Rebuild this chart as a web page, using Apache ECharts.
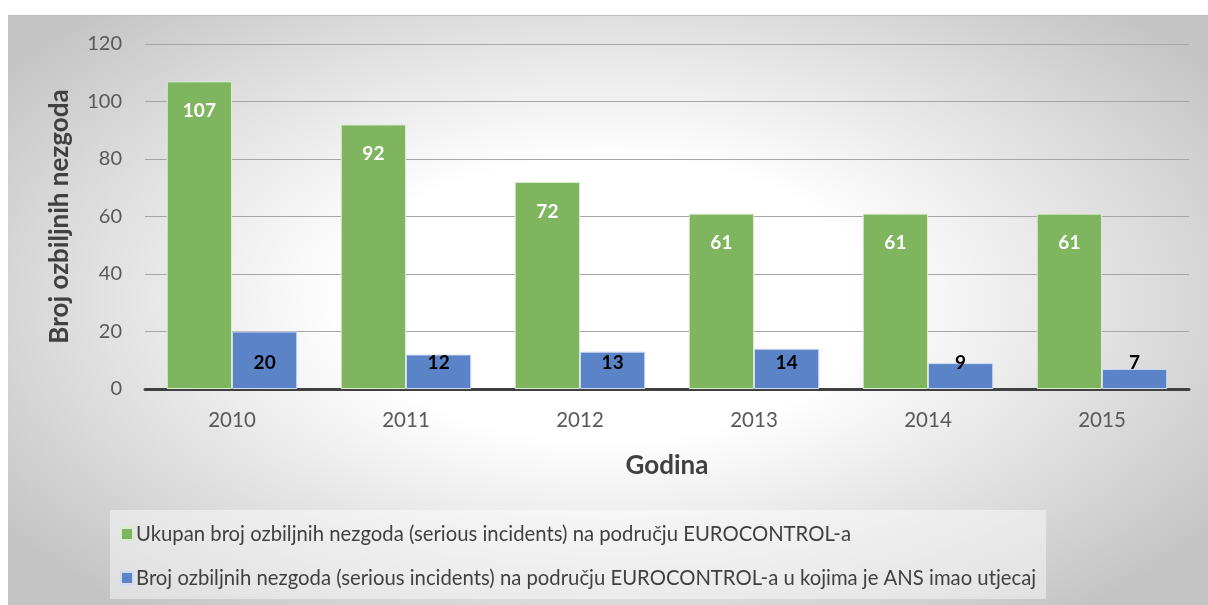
<!DOCTYPE html>
<html><head><meta charset="utf-8">
<script src="https://cdn.jsdelivr.net/npm/echarts@6/dist/echarts.min.js"></script>
<style>
html,body{margin:0;padding:0;background:#fff;}
#bg{position:absolute;left:8px;top:15px;width:1200px;height:590px;border-top:1px solid #bdbdbd;
background:radial-gradient(ellipse 62% 68% at 50% 48%, #ffffff 35%, #c4c4c4 100%);}
#c{position:absolute;left:0;top:0;width:1208px;height:605px;}
</style></head>
<body><div id="bg"></div><div id="c"></div>
<script>
const categories = ['2010','2011','2012','2013','2014','2015'];
const totalIncidents = [107, 92, 72, 61, 61, 61];
const ansIncidents = [20, 12, 13, 14, 9, 7];
const seriesNames = [
  'Ukupan broj ozbiljnih nezgoda (serious incidents) na području EUROCONTROL-a',
  'Broj ozbiljnih nezgoda (serious incidents) na području EUROCONTROL-a u kojima je ANS imao utjecaj'
];
const yTicks = [0, 20, 40, 60, 80, 100, 120];
const FONT = 'Lato';
const chart = echarts.init(document.getElementById('c'), null, {renderer:'canvas'});
chart.setOption({
  backgroundColor: 'transparent',
  textStyle: {fontFamily: FONT},
  animation: false,
  grid: {left: 145, right: 19, top: 44, bottom: 216},
  legend: {
    orient: 'vertical', left: 110, top: 510,
    padding: [14, 10, 11, 10],
    itemGap: 24, itemWidth: 12, itemHeight: 12, icon: 'rect',
    backgroundColor: 'rgba(255,255,255,0.45)',
    textStyle: {fontFamily: FONT, fontSize: 20.3, color: '#404040', padding: [0,0,0,-2]},
    data: seriesNames
  },
  xAxis: {
    type: 'category', data: categories,
    name: 'Godina', nameLocation: 'middle', nameGap: 64,
    nameTextStyle: {fontFamily: FONT, fontSize: 26, fontWeight: 'bold', color: '#404040'},
    axisLine: {lineStyle: {color: '#404040', width: 3}},
    axisTick: {show: false},
    axisLabel: {fontFamily: FONT, fontSize: 20.5, color: '#595959', margin: 21}
  },
  yAxis: {
    type: 'value', min: yTicks[0], max: yTicks[yTicks.length-1], interval: 20,
    name: 'Broj ozbiljnih nezgoda', nameLocation: 'middle', nameGap: 72, nameRotate: 90,
    nameTextStyle: {fontFamily: FONT, fontSize: 26, fontWeight: 'bold', color: '#404040'},
    axisLine: {show: false}, axisTick: {show: false},
    axisLabel: {fontFamily: FONT, fontSize: 20, color: '#595959', margin: 23},
    splitLine: {lineStyle: {color: '#a6a6a6', width: 1}}
  },
  series: [
    {
      name: seriesNames[0], type: 'bar', data: totalIncidents,
      barGap: '0%', barCategoryGap: '25%',
      itemStyle: {color: '#7fb55f', borderColor: '#d8ecd0', borderWidth: 1},
      label: {show: true, position: 'insideTop', distance: 20, color: '#ffffff',
        fontFamily: FONT, fontSize: 19, fontWeight: 'bold'}
    },
    {
      name: seriesNames[1], type: 'bar', data: ansIncidents,
      itemStyle: {color: '#5b84c8', borderColor: '#cfdcf0', borderWidth: 1},
      label: {show: true, position: 'insideBottom', distance: 17, color: '#000000',
        fontFamily: FONT, fontSize: 19, fontWeight: 'bold'}
    }
  ]
});
</script></body></html>
